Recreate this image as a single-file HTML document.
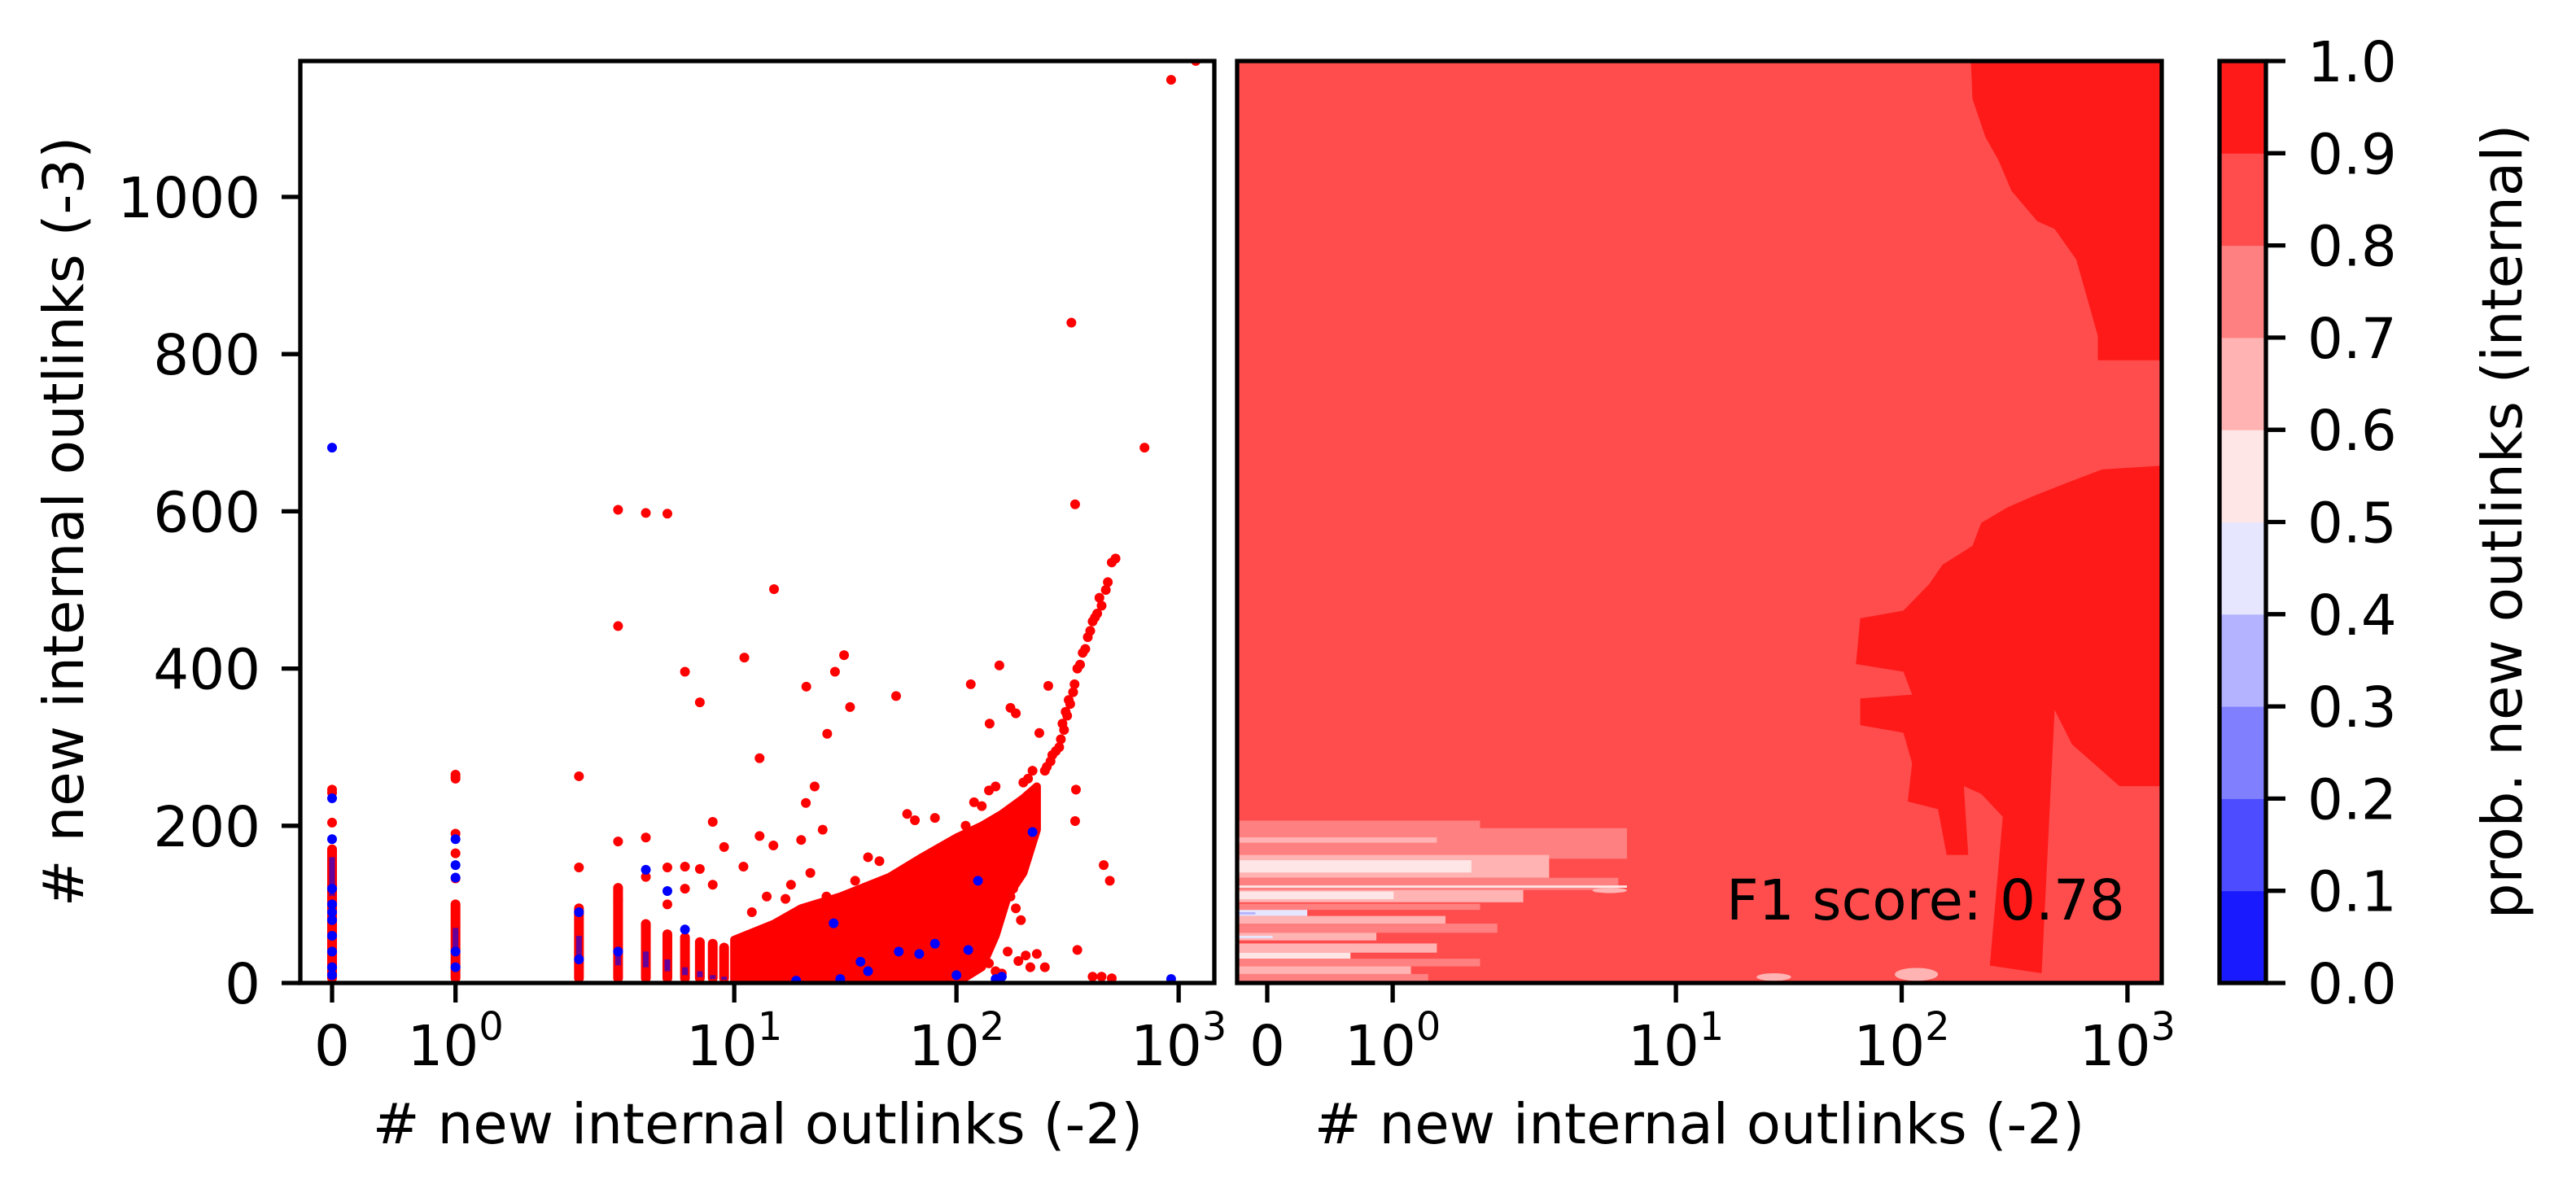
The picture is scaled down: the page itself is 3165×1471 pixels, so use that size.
<!DOCTYPE html>
<html><head><meta charset="utf-8">
<style>
html,body{margin:0;padding:0;background:#fff;}
svg{display:block;font-family:"DejaVu Sans","Liberation Sans",sans-serif;}
</style></head>
<body>
<svg id="fig" width="3165" height="1471" viewBox="0 0 3165 1471" xmlns="http://www.w3.org/2000/svg">
<rect x="0" y="0" width="3165" height="1471" fill="#fff"/>
<defs>
<clipPath id="clipL"><rect x="369" y="75" width="1123" height="1133"/></clipPath>
<clipPath id="clipR"><rect x="1520" y="75" width="1136" height="1133"/></clipPath>
</defs>
<g id="left"></g>
<g id="right"></g>
<g id="cbar"></g>
</svg>
<script>
// ---- data ----
const xTickValues = [0, 1, 10, 100, 1000];
const xTickExps = ["", "0", "1", "2", "3"];
const yTickValues = [0, 200, 400, 600, 800, 1000];
const cbarLevels = [0, 0.1, 0.2, 0.3, 0.4, 0.5, 0.6, 0.7, 0.8, 0.9, 1.0];
const cbarColors = ["#1a1aff","#4d4dff","#8080ff","#b3b3ff","#e6e6ff","#ffe6e6","#ffb3b3","#ff8080","#ff4d4d","#ff1a1a"];
// dense integer columns: x value and top of dense stack (red) / blue stack
const colX = [0, 1, 2, 3, 4, 5, 6, 7, 8, 9];
const colRedTop = [170, 100, 95, 120, 75, 62, 58, 52, 50, 45];
const colBlueTop = [160, 70, 60, 45, 40, 30, 20, 15, 10, 8];
// dense blob envelope
const blobUpperX = [10, 15, 20, 30, 50, 70, 100, 130, 160, 200, 230];
const blobUpperY = [55, 75, 95, 110, 135, 160, 185, 200, 215, 235, 250];
const blobLowerX = [230, 200, 170, 150, 130, 100, 10];
const blobLowerY = [195, 140, 110, 60, 20, 0, 0];
// red outlier points
const redX = [925,1194,329,702,342,3,4,5,3,15.1,11.1,31.2,28.4,6,7,21.1,33.2,26.2,53.5,116,156,141,175,185,259,13,236,21,23,65,2,1,1,342,345,350,410,450,500,190,230,250,9,11,13,15,20,17,3,3,4,0,0,0,1,1,1,2,3,4,5,6,7,8,250,270,290,300,310,320,335,350,370,390,410,430,450,470,480,500,520,200,210,220,120,130,140,150,160,80,90,60,40,45,35,25,110,170,180,12,14,18,22,26,5,6,8,0,1,255,265,280,295,305,315,325,340,360,380,400,420,440,460,490,175,185,195,205,215,160,170,140,150,120,110,90,70];
const redY = [1149,1173,840,681,609,602,598,597,454,501,414,417,396,396,357,377,351,317,365,380,404,330,350,343,378,286,318,229,250,207,263,265,260,206,246,42,8,8,6,28,37,20,173,148,187,175,182,107,121,105,185,246,242,204,133,165,190,147,180,135,147,148,145,125,270,290,300,330,345,360,370,400,420,440,460,470,480,500,510,535,540,255,260,270,230,225,245,250,170,210,175,215,160,155,130,195,200,215,120,90,110,125,140,110,100,120,205,105,262,275,282,295,310,322,340,355,380,405,425,448,465,490,150,130,110,95,80,35,20,12,40,25,15,30,10];
// blue points
const blueX = [0,0,0,1,1,1,2,4,5,6,220,113,68,37,19,28,925,0,0,0,0,0,0,0,0,1,1,2,3,40,55,80,100,150,160,125,30];
const blueY = [681,235,183,183,150,134,90,144,117,68,192,42,37,27,3,76,5,120,100,90,80,60,40,20,10,40,20,30,40,15,40,50,10,5,8,130,5];

// ---- helpers ----
const NS = "http://www.w3.org/2000/svg";
function el(tag, attrs, parent){const e=document.createElementNS(NS,tag);for(const k in attrs)e.setAttribute(k,attrs[k]);parent.appendChild(e);return e;}
function T(x){return x<=2 ? (x/2)*1.1111 : 1.1111+Math.log10(x/2);}
const sxL = x => 408 + 273*T(x);
const sxR = x => 1557 + 277.4*T(x);
const sy = y => 1208 - y*0.966;
const cy = v => 1208 - v*1133;
const FS = 69;
const MR = 6;

const L = document.getElementById('left');
const R = document.getElementById('right');
const C = document.getElementById('cbar');

function xTicks(parent, sx){
  xTickValues.forEach((v,i)=>{
    const x = sx(v);
    const t = el('line',{x1:x,y1:1208,x2:x,y2:1232,stroke:'#000','stroke-width':5.3},parent);
    
    
    const tx = el('text',{x:x,y:1309,'font-size':FS,'text-anchor':'middle',fill:'#000'},parent);
    
    
    if(xTickExps[i]===""){tx.textContent="0";}
    else{
      tx.appendChild(document.createTextNode("10"));
      const s=document.createElementNS(NS,'tspan');
      s.setAttribute('font-size',48);s.setAttribute('dy',-31);
      s.textContent=xTickExps[i];tx.appendChild(s);
    }
  });
}

// ---- left scatter ----
const gL = el('g',{'clip-path':'url(#clipL)'},L);
colX.forEach((x,i)=>{
  const b = el('rect',{x:sxL(x)-MR,y:sy(colRedTop[i])-MR,width:2*MR,height:sy(0)-sy(colRedTop[i])+MR,fill:'#ff0000',rx:MR},gL);
  
  
});
{
  let pts=[];
  blobUpperX.forEach((x,i)=>pts.push(sxL(x)+','+sy(blobUpperY[i])));
  blobLowerX.forEach((x,i)=>pts.push(sxL(x)+','+sy(blobLowerY[i])));
  const p = el('polygon',{points:pts.join(' '),fill:'#ff0000',stroke:'#ff0000','stroke-width':10,'stroke-linejoin':'round'},gL);
  
  
}
colX.forEach((x,i)=>{
  const b = el('rect',{x:sxL(x)-3.5,y:sy(colBlueTop[i]),width:7,height:(sy(0)-sy(colBlueTop[i]))*0.5,fill:'#0000ff',opacity:0.6},gL);
  
  
});
redX.forEach((x,i)=>{
  const c = el('circle',{cx:sxL(x),cy:sy(redY[i]),r:MR,fill:'#ff0000'},gL);
  
  
});
blueX.forEach((x,i)=>{
  const c = el('circle',{cx:sxL(x),cy:sy(blueY[i]),r:MR,fill:'#0000ff'},gL);
  
  
});
el('rect',{x:369,y:75,width:1123,height:1133,fill:'none',stroke:'#000','stroke-width':5.3},L);
xTicks(L, sxL);
yTickValues.forEach(v=>{
  const y=sy(v);
  const t=el('line',{x1:346,y1:y,x2:369,y2:y,stroke:'#000','stroke-width':5.3},L);
  
  
  const tx=el('text',{x:320,y:y+25,'font-size':FS,'text-anchor':'end'},L);
  
  
  tx.textContent=String(v);
});
{
  const t=el('text',{x:931,y:1405,'font-size':FS,'text-anchor':'middle'},L);
  
  
  t.textContent="# new internal outlinks (-2)";
  const t2=el('text',{x:0,y:0,'font-size':FS,'text-anchor':'middle',transform:'translate(102,641) rotate(-90)'},L);
  
  
  t2.textContent="# new internal outlinks (-3)";
}

// ---- right contour ----
const zx = z => 1500 + z/0.942;
const zy = z => 75 + (z-80)/1.066;
const gR = el('g',{'clip-path':'url(#clipR)'},R);
el('rect',{x:1520,y:75,width:1136,height:1133,fill:'#ff4d4d'},gR);
const upperRegion = [[868,80],[870,130],[885,180],[900,210],[915,250],[945,290],[965,300],[990,340],[1000,380],[1015,440],[1015,472],[1090,472],[1090,78]];
const lowerRegion = [[1090,610],[1020,615],[985,630],[940,650],[910,665],[880,685],[870,715],[835,740],[820,765],[790,800],[740,810],[735,870],[790,880],[800,910],[740,915],[740,950],[790,960],[800,1000],[795,1050],[830,1060],[840,1120],[865,1120],[860,1030],[880,1040],[905,1070],[890,1265],[950,1275],[965,930],[985,975],[1040,1030],[1090,1030]];
[upperRegion,lowerRegion].forEach(reg=>{
  const p=el('polygon',{points:reg.map(q=>zx(q[0])+','+zy(q[1])).join(' '),fill:'#ff1a1a'},gR);
  
  
});
const stripes = [
 [1085,1125,470,'#ff8080'],[1075,1090,300,'#ff8080'],[1097,1104,250,'#ffb3b3'],
 [1120,1150,380,'#ffb3b3'],[1127,1143,290,'#ffe6e6'],[1150,1166,460,'#ff8080'],
 [1160,1163,470,'#ffe6e6'],
 [1166,1182,350,'#ffb3b3'],[1168,1178,200,'#ffe6e6'],[1184,1192,300,'#ff8080'],
 [1192,1200,100,'#e6e6ff'],[1195,1198,40,'#b3b3ff'],[1200,1210,260,'#ffb3b3'],
 [1210,1222,320,'#ff8080'],[1222,1232,180,'#ffb3b3'],[1226,1229,60,'#e6e6ff'],
 [1236,1248,250,'#ffb3b3'],[1248,1256,150,'#ffe6e6'],[1256,1266,300,'#ff8080'],
 [1266,1276,220,'#ffb3b3'],[1276,1288,240,'#ff8080']
];
stripes.forEach(s=>{
  const r=el('rect',{x:1520,y:zy(s[0]),width:zx(s[2])-1520,height:zy(s[1])-zy(s[0]),fill:s[3]},gR);
  
  
});
[[620,660,1275,1285],[780,830,1268,1285],[430,470,1163,1170]].forEach(s=>{
  const r=el('ellipse',{cx:(zx(s[0])+zx(s[1]))/2,cy:(zy(s[2])+zy(s[3]))/2,rx:(zx(s[1])-zx(s[0]))/2,ry:(zy(s[3])-zy(s[2]))/2,fill:'#ffb3b3'},gR);
  
  
});
el('rect',{x:1520,y:75,width:1136,height:1133,fill:'none',stroke:'#000','stroke-width':5.3},R);
xTicks(R, sxR);
{
  const t=el('text',{x:2088,y:1405,'font-size':FS,'text-anchor':'middle'},R);
  
  
  t.textContent="# new internal outlinks (-2)";
  const f=el('text',{x:2121,y:1130,'font-size':FS},R);
  
  
  f.textContent="F1 score: 0.78";
}

// ---- colorbar ----
cbarColors.forEach((c,i)=>{
  const r=el('rect',{x:2727,y:cy(cbarLevels[i+1]),width:57,height:cy(cbarLevels[i])-cy(cbarLevels[i+1])+0.5,fill:c},C);
  
  
});
el('rect',{x:2727,y:75,width:57,height:1133,fill:'none',stroke:'#000','stroke-width':5.3},C);
cbarLevels.forEach(v=>{
  const y=cy(v);
  const t=el('line',{x1:2784,y1:y,x2:2808,y2:y,stroke:'#000','stroke-width':5.3},C);
  
  
  const tx=el('text',{x:2835,y:y+25,'font-size':FS},C);
  
  
  tx.textContent=v.toFixed(1);
});
{
  const t=el('text',{x:0,y:0,'font-size':FS,'text-anchor':'middle',transform:'translate(3098,641) rotate(-90)'},C);
  
  
  t.textContent="prob. new outlinks (internal)";
}
</script>
</body></html>
